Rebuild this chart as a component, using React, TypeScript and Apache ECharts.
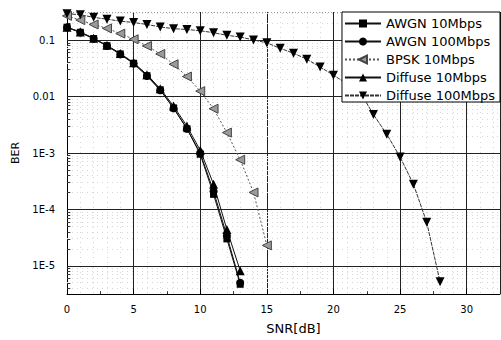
import React, { useEffect, useRef } from "react";
import * as echarts from "echarts";

// SNR values (dB)
const snr = [0, 1, 2, 3, 4, 5, 6, 7, 8, 9, 10, 11, 12, 13, 14, 15, 16, 17, 18, 19, 20, 21, 22, 23, 24, 25, 26, 27, 28];

// BER values
const awgn10 = [0.17, 0.138, 0.107, 0.08, 0.057, 0.039, 0.0235, 0.0132, 0.0063, 0.0027, 9.5e-4, 1.85e-4, 3.0e-5, 4.7e-6];
const awgn100 = [0.168, 0.137, 0.106, 0.079, 0.056, 0.0385, 0.0232, 0.013, 0.0062, 0.0027, 1.0e-3, 2.1e-4, 3.4e-5, 5.0e-6];
const bpsk10 = [0.27, 0.227, 0.19, 0.162, 0.131, 0.104, 0.079, 0.057, 0.0375, 0.0227, 0.0125, 0.0061, 0.0023, 7.6e-4, 2.0e-4, 2.3e-5];
const diffuse10 = [0.17, 0.14, 0.108, 0.081, 0.058, 0.04, 0.0245, 0.0138, 0.0068, 0.003, 1.12e-3, 2.8e-4, 4.4e-5, 8.2e-6];
const diffuse100 = [0.295, 0.283, 0.254, 0.236, 0.218, 0.206, 0.19, 0.172, 0.16, 0.155, 0.147, 0.136, 0.122, 0.114, 0.101, 0.0898, 0.0717, 0.0588, 0.0461, 0.0335, 0.024, 0.017, 0.0121, 0.0048, 0.00215, 8.5e-4, 2.8e-4, 5.9e-5, 5.2e-6];

const seriesNames = ["AWGN 10Mbps", "AWGN 100Mbps", "BPSK 10Mbps", "Diffuse 10Mbps", "Diffuse 100Mbps"];

// y tick labels (decades)
const yTickExps = [-5, -4, -3, -2, -1];
const yTickLabels = ["1E-5", "1E-4", "1E-3", "0.01", "0.1"];

const FONT = "DejaVu Sans";

function toPts(vals: number[]) {
  return vals.map((v, i) => [snr[i], Math.log10(v)]);
}

export default function App() {
  const ref = useRef<HTMLDivElement>(null);
  useEffect(() => {
    if (!ref.current) return;
    const chart = echarts.init(ref.current, undefined, { renderer: "svg" });

    const yMin = -5.5;
    const yMax = -0.5;
    const majorH = yTickExps.map((e) => ({ yAxis: e, lineStyle: { color: "#222", width: 1, type: "solid" } }));
    const minorH: any[] = [];
    const minorTicksY: any[] = [];
    for (let k = -6; k <= -1; k++) {
      for (let m = 2; m <= 9; m++) {
        const v = Math.log10(m) + k;
        if (v > yMin && v < yMax) {
          minorH.push({ yAxis: v, lineStyle: { color: "#d6d6d6", width: 1, type: [1, 4] } });
          minorTicksY.push([
            { coord: [0, v], lineStyle: { color: "#333", width: 1, type: "solid" } },
            { coord: [0.25, v] },
          ]);
        }
      }
    }
    const topLine = [{ yAxis: yMax, lineStyle: { color: "#999", width: 1, type: [1, 2] } }];
    const minorTicksX: any[] = [];
    for (let x = 2.5; x < 32.5; x += 5) {
      minorTicksX.push([
        { coord: [x, yMin], lineStyle: { color: "#333", width: 1, type: "solid" } },
        { coord: [x, yMin + 0.05] },
      ]);
    }

    const common = {
      type: "line",
      showSymbol: true,
      z: 3,
    };

    chart.setOption({
      animation: false,
      backgroundColor: "#fff",
      grid: { left: 67, right: 1, top: 12, bottom: 42, containLabel: false },
      xAxis: {
        type: "value",
        min: 0,
        max: 32.5,
        interval: 5,
        name: "SNR[dB]",
        nameLocation: "middle",
        nameGap: 28,
        nameTextStyle: { fontFamily: FONT, fontSize: 13, color: "#000", padding: [0, 0, 0, 20] },
        axisLine: { show: true, lineStyle: { color: "#000", width: 1 } },
        axisTick: { show: true, inside: true, length: 5, lineStyle: { color: "#000" } },
        minorTick: { show: false, splitNumber: 5 },
        minorSplitLine: { show: true, lineStyle: { color: "#d6d6d6", width: 1, type: [1, 4] } },
        splitLine: { show: true, lineStyle: { color: "#222", width: 1 } },
        axisLabel: { fontFamily: FONT, fontSize: 10, color: "#000", margin: 10, showMaxLabel: false },
      },
      yAxis: {
        type: "value",
        min: yMin,
        max: yMax,
        interval: 0.5,
        name: "BER",
        nameLocation: "middle",
        nameGap: 46,
        nameTextStyle: { fontFamily: FONT, fontSize: 11, color: "#000" },
        axisLine: { show: true, lineStyle: { color: "#000", width: 1 } },
        axisTick: { show: false },
        splitLine: { show: false },
        axisLabel: {
          fontFamily: FONT,
          fontSize: 10,
          color: "#000",
          margin: 12,
          formatter: (v: number) => {
            const idx = yTickExps.findIndex((e) => Math.abs(e - v) < 1e-6);
            return idx >= 0 ? yTickLabels[idx] : "";
          },
        },
      },
      legend: {
        orient: "vertical",
        right: 1,
        top: 12,
        data: seriesNames,
        backgroundColor: "#fff",
        borderColor: "#000",
        borderWidth: 1,
        borderRadius: 0,
        padding: [5, 5, 0, 2],
        itemGap: 5,
        itemWidth: 36,
        itemHeight: 10,
        textStyle: { fontFamily: FONT, fontSize: 13, color: "#000" },
      },
      series: [
        {
          type: "line",
          name: "grid",
          data: [],
          silent: true,
          z: 1,
          markLine: {
            silent: true,
            z: 1,
            symbol: ["none", "none"],
            label: { show: false },
            animation: false,
            data: [...minorH, ...majorH, ...topLine, ...minorTicksY, ...minorTicksX],
          },
        },
        {
          ...common,
          name: seriesNames[0],
          data: toPts(awgn10),
          symbol: "rect",
          symbolSize: 7,
          itemStyle: { color: "#000" },
          lineStyle: { color: "#111", width: 1 },
        },
        {
          ...common,
          name: seriesNames[1],
          data: toPts(awgn100),
          symbol: "circle",
          symbolSize: 8,
          itemStyle: { color: "#000" },
          lineStyle: { color: "#111", width: 1 },
        },
        {
          ...common,
          name: seriesNames[2],
          data: toPts(bpsk10),
          symbol: "triangle",
          symbolRotate: 90,
          symbolSize: 9,
          itemStyle: { color: "#9a9a9a", borderColor: "#444", borderWidth: 1 },
          lineStyle: { color: "#555", width: 1, type: [2, 2] },
        },
        {
          ...common,
          name: seriesNames[3],
          data: toPts(diffuse10),
          symbol: "triangle",
          symbolSize: 9,
          itemStyle: { color: "#000" },
          lineStyle: { color: "#111", width: 1 },
        },
        {
          ...common,
          name: seriesNames[4],
          data: toPts(diffuse100),
          symbol: "triangle",
          symbolRotate: 180,
          symbolSize: 9,
          itemStyle: { color: "#000" },
          lineStyle: { color: "#333", width: 1, type: [4, 1] },
        },
      ],
    });
    return () => chart.dispose();
  }, []);
  return (
    <div
      ref={ref}
      style={{ position: "fixed", left: 0, top: 0, width: 501, height: 340, background: "#fff" }}
    />
  );
}
